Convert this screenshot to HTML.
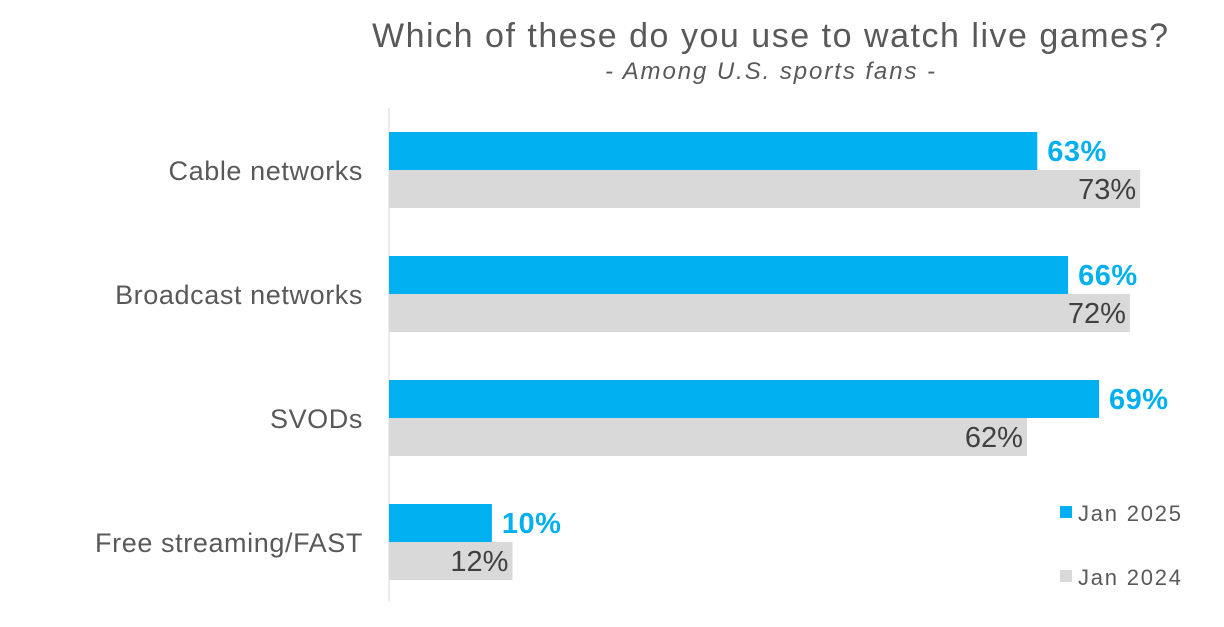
<!DOCTYPE html>
<html><head><meta charset="utf-8"><style>
body{margin:0;background:#fff;font-family:"Liberation Sans",sans-serif}
</style></head><body>
<svg id="chart" width="1224" height="622" xmlns="http://www.w3.org/2000/svg">
<text x="770" y="47" text-anchor="middle" font-size="34" fill="#595959" textLength="796" lengthAdjust="spacing">Which of these do you use to watch live games?</text>
<text x="770" y="79" text-anchor="middle" font-size="24" font-style="italic" fill="#595959" textLength="330" lengthAdjust="spacing">- Among U.S. sports fans -</text>
<line x1="389" y1="108" x2="389" y2="602" stroke="#d9d9d9" stroke-width="1"/>
<g id="bars"></g>
<rect x="1060" y="506" width="12" height="12" fill="#00b0f0"/>
<text x="1078" y="521" font-size="22" fill="#595959" textLength="103" lengthAdjust="spacing">Jan 2025</text>
<rect x="1060" y="570" width="12" height="12" fill="#d9d9d9"/>
<text x="1078" y="585" font-size="22" fill="#595959" textLength="103" lengthAdjust="spacing">Jan 2024</text>
</svg>
<script>
const categories=["Cable networks","Broadcast networks","SVODs","Free streaming/FAST"];
const jan2025=[63,66,69,10];
const jan2024=[73,72,62,12];
const NS="http://www.w3.org/2000/svg";
const g=document.getElementById('bars');
const x0=389,k=10.29,top0=132,step=124,bh=38;
function xs(v){return x0+v*k;}
function mk(t,a){const e=document.createElementNS(NS,t);for(const n in a)e.setAttribute(n,a[n]);g.appendChild(e);return e;}
categories.forEach((c,i)=>{
 const y=top0+i*step;
 const lab=mk('text',{x:363,y:y+bh+10,'text-anchor':'end','font-size':27,'letter-spacing':0.6,fill:'#595959'});
 lab.textContent=c;
 
 
 const b1=mk('rect',{x:x0,y:y,width:xs(jan2025[i])-x0,height:bh,fill:'#00b0f0'});
 
 
 const b2=mk('rect',{x:x0,y:y+bh,width:xs(jan2024[i])-x0,height:bh,fill:'#d9d9d9'});
 
 
 const t1=mk('text',{x:xs(jan2025[i])+10,y:y+bh/2+10,'font-size':29,'font-weight':'bold','letter-spacing':0.5,fill:'#00b0f0'});
 t1.textContent=jan2025[i]+'%';
 
 
 const t2=mk('text',{x:xs(jan2024[i])-4,y:y+bh+bh/2+10,'text-anchor':'end','font-size':29,fill:'#404040'});
 t2.textContent=jan2024[i]+'%';
 
 
});
</script>
</body></html>
